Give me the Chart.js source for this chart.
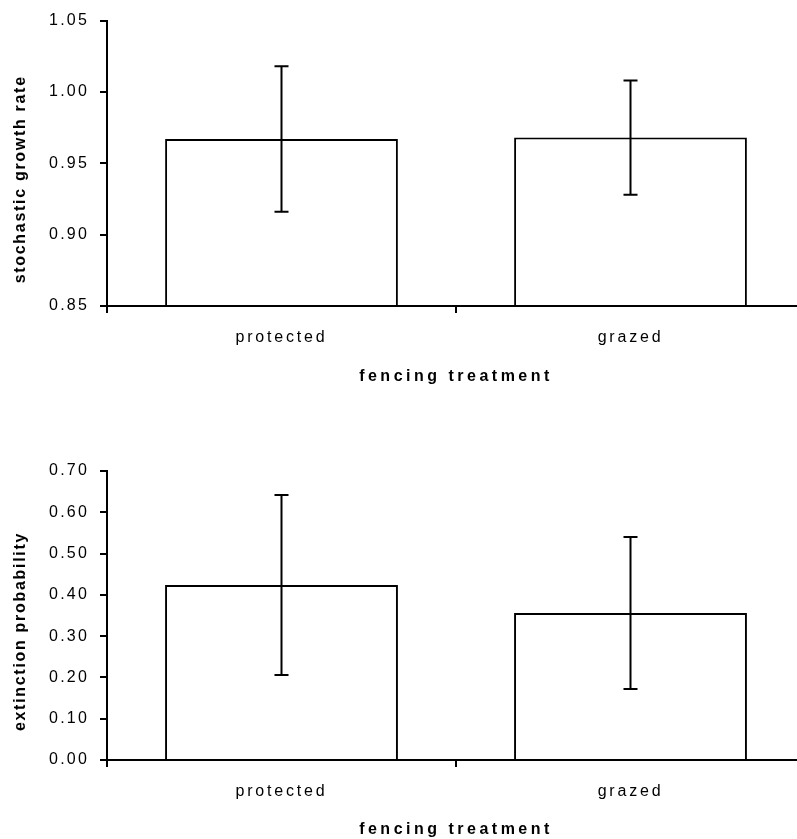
<!DOCTYPE html>
<html>
<head>
<meta charset="utf-8">
<script src="https://cdn.jsdelivr.net/npm/chart.js@4.4.1/dist/chart.umd.min.js"></script>
<style>
  html, body { margin: 0; padding: 0; background: #fff; overflow: hidden; }
  canvas { display: block; }
</style>
</head>
<body>
<canvas id="growthChart" width="810" height="420"></canvas>
<canvas id="extinctionChart" width="810" height="419"></canvas>
<script>
const treatments = ['protected', 'grazed'];

// top panel
const growthRate = [0.967, 0.968];
const growthError = [0.051, 0.040];
const growthTicks = [0.85, 0.90, 0.95, 1.00, 1.05];

// bottom panel
const extinctionProb = [0.424, 0.356];
const extinctionError = [0.218, 0.184];
const extinctionTicks = [0, 0.1, 0.2, 0.3, 0.4, 0.5, 0.6, 0.7];

const FONT = "'Liberation Sans', Arial, sans-serif";

// error bars drawn from the dataset's own scale
const errorBars = {
    id: 'errorBars',
    afterDatasetsDraw(chart, args, opts) {
        const ctx = chart.ctx;
        const y = chart.scales.y;
        const meta = chart.getDatasetMeta(0);
        const means = chart.data.datasets[0].data;
        ctx.save();
        ctx.strokeStyle = '#000';
        ctx.lineWidth = 2;
        meta.data.forEach((bar, i) => {
            const top = y.getPixelForValue(means[i] + opts.errors[i]);
            const bottom = y.getPixelForValue(means[i] - opts.errors[i]);
            ctx.beginPath();
            ctx.moveTo(bar.x, top);
            ctx.lineTo(bar.x, bottom);
            ctx.moveTo(bar.x - 7, top);
            ctx.lineTo(bar.x + 7, top);
            ctx.moveTo(bar.x - 7, bottom);
            ctx.lineTo(bar.x + 7, bottom);
            ctx.stroke();
        });
        ctx.restore();
    }
};

// the original text is loosely spaced; canvas letterSpacing gets close
function spaceScale(scale, labelSpacing, titleSpacing, titleShift) {
    if (scale._spaced) return;
    scale._spaced = true;
    const drawLabels = scale.drawLabels;
    const drawTitle = scale.drawTitle;
    scale.drawLabels = function (area) {
        this.ctx.save();
        this.ctx.letterSpacing = labelSpacing;
        drawLabels.call(this, area);
        this.ctx.restore();
    };
    scale.drawTitle = function () {
        this.ctx.save();
        this.ctx.letterSpacing = titleSpacing;
        this.ctx.translate(0, titleShift);
        drawTitle.call(this);
        this.ctx.restore();
    };
}

const spacing = {
    id: 'spacing',
    afterLayout(chart) {
        spaceScale(chart.scales.x, '2.8px', '3.5px', 0);
        spaceScale(chart.scales.y, '2.2px', '1.7px', 16);
    }
};

function initChart(id, values, errors, ticks, yTitle, padTop, xHeight, xTitlePad) {
    const ctx = document.getElementById(id).getContext('2d');

    new Chart(ctx, {
        type: 'bar',
        data: {
            labels: treatments,
            datasets: [{
                data: values,
                backgroundColor: '#fff',
                borderColor: '#000',
                borderWidth: 2,
                borderSkipped: 'start',
                categoryPercentage: 1,
                barPercentage: 0.667
            }]
        },
        options: {
            responsive: false,
            animation: false,
            layout: {
                padding: { top: padTop, right: 5, bottom: 0, left: 0 }
            },
            scales: {
                x: {
                    grid: {
                        offset: true,
                        drawOnChartArea: false,
                        drawTicks: true,
                        tickLength: 7,
                        color: '#000',
                        lineWidth: 2
                    },
                    border: { color: '#000', width: 2, z: 1 },
                    ticks: {
                        color: '#000',
                        padding: 15,
                        font: { size: 16, family: FONT }
                    },
                    title: {
                        display: true,
                        text: 'fencing treatment',
                        color: '#000',
                        padding: { top: 0, bottom: xTitlePad },
                        font: { size: 16, weight: 'bold', family: FONT }
                    },
                    afterFit: s => { s.height = xHeight; }
                },
                y: {
                    min: ticks[0],
                    max: ticks[ticks.length - 1],
                    afterBuildTicks: s => { s.ticks = ticks.map(v => ({ value: v })); },
                    grid: {
                        drawOnChartArea: false,
                        drawTicks: true,
                        tickLength: 7,
                        color: '#000',
                        lineWidth: 2
                    },
                    border: { color: '#000', width: 2, z: 1 },
                    ticks: {
                        color: '#000',
                        padding: 11,
                        font: { size: 16, family: FONT },
                        callback: v => v.toFixed(2)
                    },
                    title: {
                        display: true,
                        text: yTitle,
                        color: '#000',
                        padding: { top: 11, bottom: 4 },
                        font: { size: 16, weight: 'bold', family: FONT }
                    },
                    afterFit: s => { s.width = 107; }
                }
            },
            plugins: {
                legend: { display: false },
                tooltip: { enabled: false },
                errorBars: { errors: errors }
            }
        },
        plugins: [errorBars, spacing]
    });
}

initChart('growthChart', growthRate, growthError, growthTicks, 'stochastic growth rate', 20, 114, 34);
initChart('extinctionChart', extinctionProb, extinctionError, extinctionTicks, 'extinction probability', 51, 79, 0);
</script>
</body>
</html>
